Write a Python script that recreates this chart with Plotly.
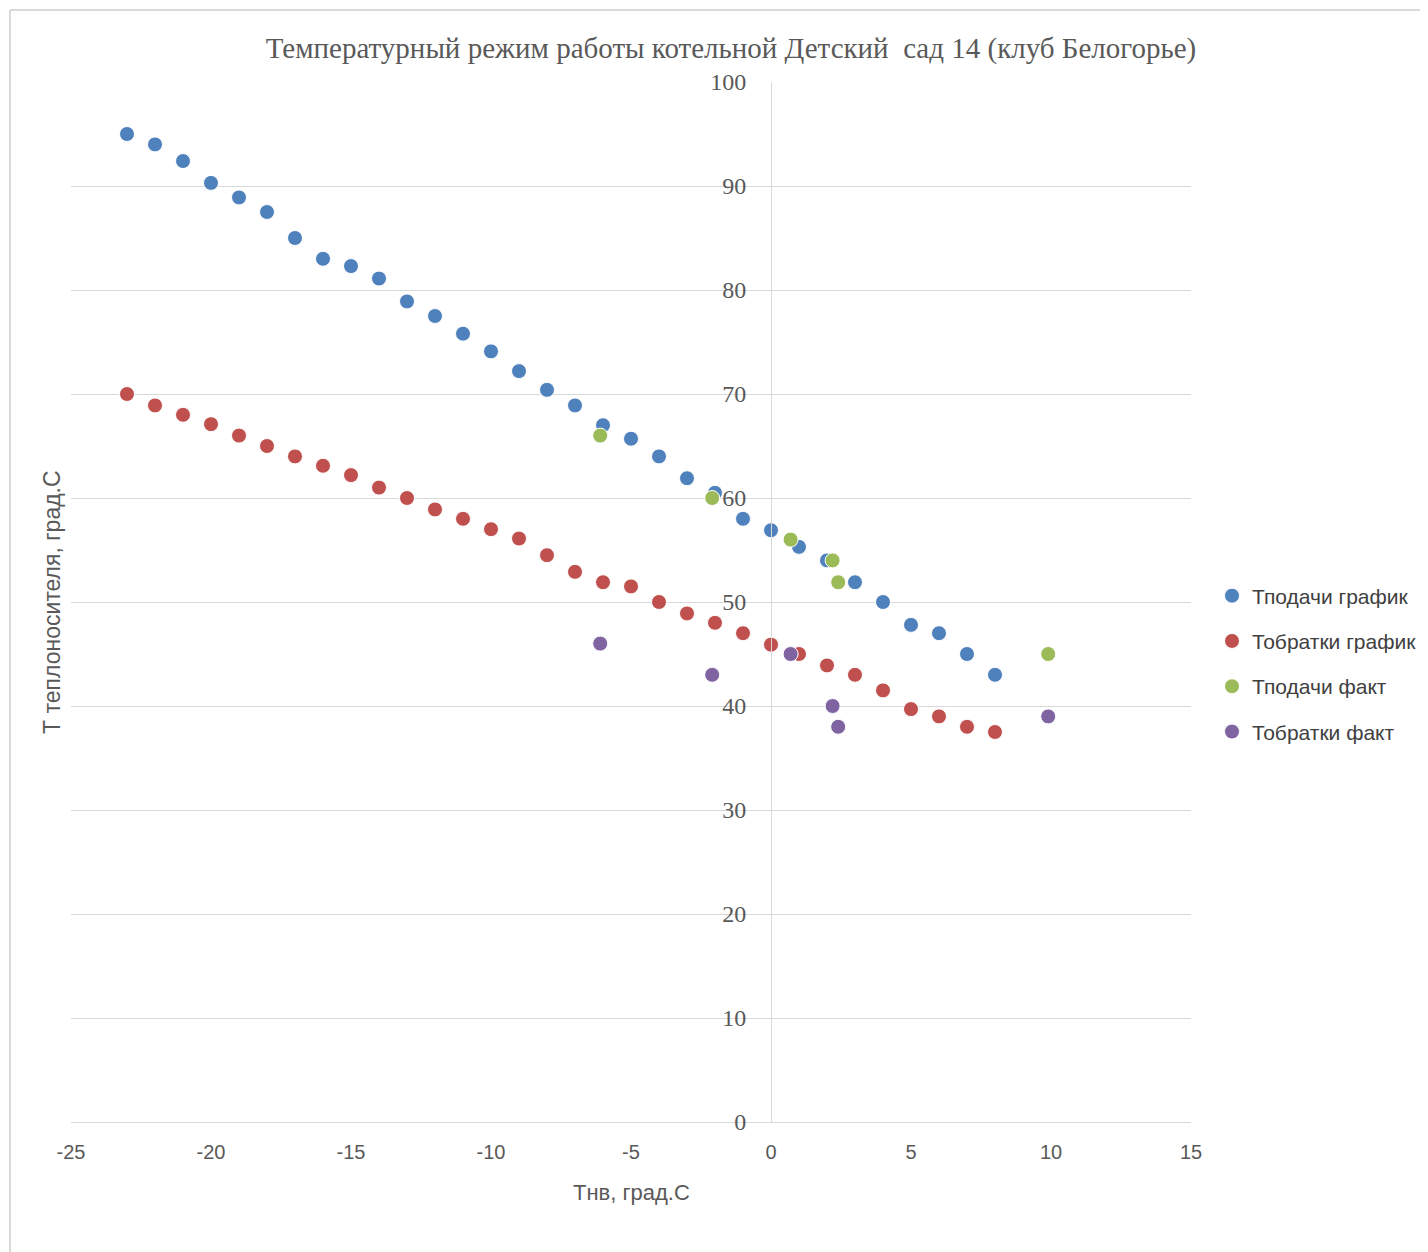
import plotly.graph_objects as go

# расписание (график) по Тнв
t_nv = [-23, -22, -21, -20, -19, -18, -17, -16, -15, -14, -13, -12, -11, -10, -9, -8,
        -7, -6, -5, -4, -3, -2, -1, 0, 1, 2, 3, 4, 5, 6, 7, 8]
t_pod_graf = [95.0, 94.0, 92.4, 90.3, 88.9, 87.5, 85.0, 83.0, 82.3, 81.1, 78.9, 77.5, 75.8, 74.1, 72.2, 70.4,
              68.9, 67.0, 65.7, 64.0, 61.9, 60.5, 58.0, 56.9, 55.3, 54.0, 51.9, 50.0, 47.8, 47.0, 45.0, 43.0]
t_obr_graf = [70.0, 68.9, 68.0, 67.1, 66.0, 65.0, 64.0, 63.1, 62.2, 61.0, 60.0, 58.9, 58.0, 57.0, 56.1, 54.5,
              52.9, 51.9, 51.5, 50.0, 48.9, 48.0, 47.0, 45.9, 45.0, 43.9, 43.0, 41.5, 39.7, 39.0, 38.0, 37.5]

# фактические замеры
t_nv_fakt = [-6.1, -2.1, 0.7, 2.2, 2.4, 9.9]
t_pod_fakt = [66.0, 60.0, 56.0, 54.0, 51.9, 45.0]
t_obr_fakt = [46.0, 43.0, 45.0, 40.0, 38.0, 39.0]

x_ticks = [-25, -20, -15, -10, -5, 0, 5, 10, 15]
x_tick_text = ['-25', '-20', '-15', '-10', '-5', '0', '5', '10', '15']

series = [
    ('Тподачи график', t_nv, t_pod_graf, '#4F81BD'),
    ('Тобратки график', t_nv, t_obr_graf, '#C0504D'),
    ('Тподачи факт', t_nv_fakt, t_pod_fakt, '#9BBB59'),
    ('Тобратки факт', t_nv_fakt, t_obr_fakt, '#8064A2'),
]

fig = go.Figure()
for i, (name, xs, ys, color) in enumerate(series):
    fig.add_trace(go.Scatter(x=xs, y=ys, mode='markers', name=name, legendgroup=str(i),
                             marker=dict(size=15, color=color, line=dict(width=1, color='white'))))

# страница сдвинута на 8px (отступ body), поэтому всё считаем со сдвигом
OFF = 8
W, H = 1428, 1252
L, T = 71 - OFF, 82 - OFF
PW, PH = 1120, 1040
R, B = W - L - PW, H - T - PH
x_min, x_max = -25, 15
# ось Y проходит через x=0
y_pos = (0 - x_min) / (x_max - x_min)


def px(x):
    return (x - OFF - L) / PW


def py(y):
    return (T + PH - (y - OFF)) / PH


fig.update_layout(
    width=W, height=H,
    margin=dict(l=L, r=R, t=T, b=B, autoexpand=False),
    plot_bgcolor='white', paper_bgcolor='white',
    title=dict(text='Температурный режим работы котельной Детский  сад 14 (клуб Белогорье)',
               x=(731 - OFF) / W, xanchor='center', y=1 - (48 - OFF) / H, yanchor='middle',
               font=dict(family='Liberation Serif', size=29, color='#595959')),
    xaxis=dict(range=[x_min, x_max], tickmode='array', tickvals=x_ticks, ticktext=x_tick_text,
               showgrid=False, zeroline=False, showline=False, ticks='', ticklabelstandoff=16,
               tickfont=dict(family='Liberation Sans', size=20, color='#595959')),
    yaxis=dict(range=[0, 100], dtick=10, showgrid=True, gridcolor='#D9D9D9', gridwidth=1,
               zeroline=True, zerolinecolor='#D9D9D9', zerolinewidth=1,
               anchor='free', position=y_pos, showline=True, linecolor='#D9D9D9', linewidth=1,
               ticks='', ticklabelstandoff=20,
               tickfont=dict(family='Liberation Serif', size=24, color='#595959')),
    legend=dict(x=px(1212), y=py(664), xanchor='left', yanchor='middle',
                traceorder='grouped', tracegroupgap=15, itemwidth=30,
                font=dict(family='Liberation Sans', size=21, color='#404040')),
    annotations=[
        dict(text='Тнв, град.С', xref='paper', yref='paper', x=px(631), y=py(1192),
             xanchor='center', yanchor='middle', showarrow=False,
             font=dict(family='Liberation Sans', size=22, color='#595959')),
        dict(text='Т теплоносителя, град.С', xref='paper', yref='paper', x=px(52), y=py(602),
             xanchor='center', yanchor='middle', textangle=-90, showarrow=False,
             font=dict(family='Liberation Sans', size=23, color='#595959')),
    ],
    shapes=[
        dict(type='line', xref='paper', yref='paper', x0=px(10), x1=px(10),
             y0=py(10), y1=py(1260), line=dict(color='#D9D9D9', width=2)),
        dict(type='line', xref='paper', yref='paper', x0=px(10), x1=px(1440),
             y0=py(10), y1=py(10), line=dict(color='#D9D9D9', width=2)),
    ],
)

fig.write_html('out.html')
